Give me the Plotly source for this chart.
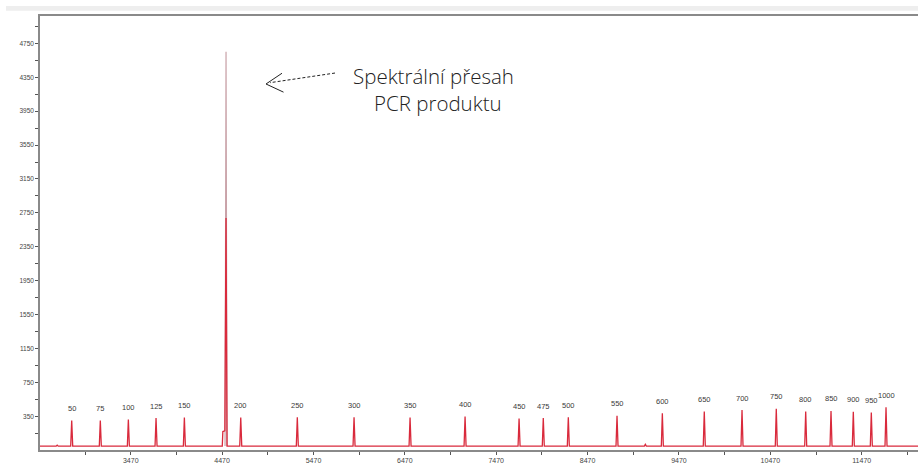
import plotly.graph_objects as go

# Size-standard peaks: scan position, signal (RFU) and fragment size label
peak_scan = [2824, 3137, 3444, 3747, 4057, 4674, 5293, 5914, 6527, 7129, 7720,
             7985, 8259, 8792, 9288, 9747, 10160, 10535, 10857, 11134, 11378,
             11575, 11736]
peak_rfu = [303, 303, 314, 330, 338, 338, 341, 341, 338, 350, 326,
            330, 341, 357, 388, 408, 424, 439, 408, 415, 404,
            397, 459]
peak_bp = ["50", "75", "100", "125", "150", "200", "250", "300", "350", "400", "450",
           "475", "500", "550", "600", "650", "700", "750", "800", "850", "900",
           "950", "1000"]

# Spectral pull-up from the PCR product
pullup_scan = 4513
pullup_rfu_red = 2690
pullup_rfu_total = 4650
shoulder_scan = [4478, 4500]
shoulder_rfu = [172, 180]

# Small baseline artefacts
minor_scan = [2665, 9102]
minor_rfu = [12, 20]

callout_lines = ["Spektrální přesah", "PCR produktu"]

X_RANGE = [2477, 12086]
Y_RANGE = [-46, 5072]
HALF = 11  # half base width of a peak, in scans

# Red channel: baseline with spikes for every peak
knots = []
for s, h in zip(peak_scan + minor_scan, peak_rfu + minor_rfu):
    knots += [(s - HALF, 0), (s, h), (s + HALF, 0)]
knots += [(shoulder_scan[0] - 6, 0), (shoulder_scan[0], shoulder_rfu[0]),
          (shoulder_scan[1], shoulder_rfu[1]), (pullup_scan, pullup_rfu_red),
          (pullup_scan + HALF, 0)]
knots += [(X_RANGE[0], 0), (X_RANGE[1], 0)]
knots.sort()
red_x = [k[0] for k in knots]
red_y = [k[1] for k in knots]

fig = go.Figure()

# Overlapping channel reaching the full pull-up height
fig.add_trace(go.Scatter(
    x=[pullup_scan - HALF, pullup_scan, pullup_scan + HALF],
    y=[0, pullup_rfu_total, 0],
    mode="lines", line=dict(color="#c9a2a8", width=1.2),
    hoverinfo="skip", showlegend=False))

fig.add_trace(go.Scatter(
    x=red_x, y=red_y, mode="lines",
    line=dict(color="#d92a3c", width=1.3),
    hoverinfo="skip", showlegend=False))

# Size labels above each standard peak
for s, h, lab in zip(peak_scan, peak_rfu, peak_bp):
    fig.add_annotation(x=s, y=h, text=lab, showarrow=False, yshift=12,
                       font=dict(family="Liberation Sans, Arial", size=7.5, color="#3a3a3a"))

W, H = 918, 464
ML, MR, MT, MB = 40, 0, 16, 12
PW, PH = W - ML - MR, H - MT - MB


def px(x):
    return (x - ML) / PW


def py(y):
    return (H - MB - y) / PH


# Callout text, one annotation per line
for line, cx, cy in zip(callout_lines, [433, 438], [76, 103]):
    fig.add_annotation(xref="paper", yref="paper", x=px(cx), y=py(cy),
                       text=line, showarrow=False,
                       xanchor="center", yanchor="middle",
                       font=dict(family="Open Sans", size=20.5, color="#222222", weight=300))

# Dashed arrow pointing at the pull-up peak
fig.add_shape(type="line", xref="paper", yref="paper",
              x0=px(335), y0=py(73.3), x1=px(270), y1=py(83),
              line=dict(color="#222222", width=1, dash="3px,2px"))
fig.add_shape(type="path", xref="paper", yref="paper",
              path=f"M {px(282)} {py(73.5)} L {px(266)} {py(84.3)} L {px(283.5)} {py(92.5)}",
              line=dict(color="#222222", width=1))

# Light strip along the top edge
fig.add_shape(type="rect", xref="paper", yref="paper",
              x0=px(6), x1=1.0, y0=py(10.7), y1=py(6),
              fillcolor="#eeeeee", line=dict(width=0), layer="below")

fig.update_layout(
    width=W, height=H,
    margin=dict(l=ML, r=MR, t=MT, b=MB),
    paper_bgcolor="white", plot_bgcolor="white",
    showlegend=False,
    xaxis=dict(range=X_RANGE, showgrid=False, zeroline=False,
               showline=True, linecolor="#8a8a8a", linewidth=1.5, mirror=True,
               tick0=3470, dtick=1000, tickformat="d", ticks="outside", ticklen=3,
               tickcolor="#555555", tickwidth=1,
               tickfont=dict(family="Liberation Sans, Arial", size=7, color="#444444"),
               minor=dict(tick0=2970, dtick=500, ticks="outside", ticklen=3,
                          tickcolor="#555555", showgrid=False)),
    yaxis=dict(range=Y_RANGE, showgrid=False, zeroline=False,
               showline=True, linecolor="#8a8a8a", linewidth=1.5,
               tick0=350, dtick=400, tickformat="d", ticks="outside", ticklen=3,
               tickcolor="#555555", tickwidth=1,
               tickfont=dict(family="Liberation Sans, Arial", size=6.5, color="#444444"),
               minor=dict(tick0=150, dtick=200, ticks="outside", ticklen=3,
                          tickcolor="#555555", showgrid=False)),
)

fig.write_html("out.html")
